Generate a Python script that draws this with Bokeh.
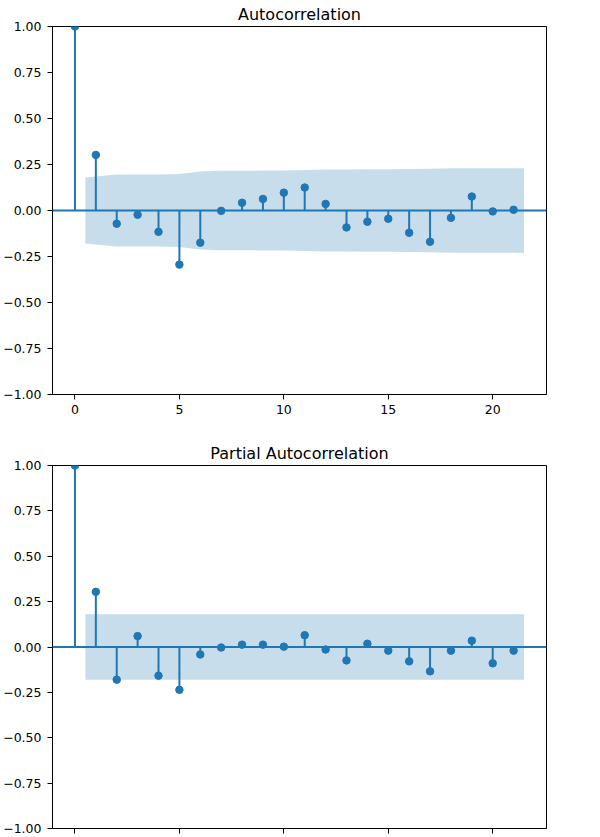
from bokeh.plotting import figure
from bokeh.layouts import column
from bokeh.models import Span, FixedTicker, Range1d
from bokeh.embed import file_html
from bokeh.resources import INLINE

# ---- data ----
lags = list(range(22))
acf_values = [1.0, 0.302, -0.072, -0.023, -0.116, -0.294, -0.175, -0.002, 0.042, 0.063,
              0.097, 0.125, 0.036, -0.092, -0.061, -0.045, -0.121, -0.170, -0.040, 0.076,
              -0.005, 0.004]
# confidence half-width for lags 1..21
acf_conf = [0.180, 0.195, 0.196, 0.196, 0.198, 0.212, 0.216, 0.216, 0.217, 0.218, 0.220,
            0.223, 0.223, 0.224, 0.224, 0.225, 0.227, 0.229, 0.229, 0.230, 0.230]
pacf_values = [1.0, 0.304, -0.180, 0.060, -0.158, -0.236, -0.041, -0.003, 0.013, 0.013,
               0.002, 0.065, -0.014, -0.074, 0.018, -0.020, -0.079, -0.134, -0.020, 0.035,
               -0.090, -0.020]
pacf_conf = [0.181, 0.181, 0.181, 0.181, 0.181, 0.181, 0.181, 0.181, 0.181, 0.181, 0.181,
             0.181, 0.181, 0.181, 0.181, 0.181, 0.181, 0.181, 0.181, 0.181, 0.181]
titles = ["Autocorrelation", "Partial Autocorrelation"]
x_ticks = [0, 5, 10, 15, 20]
y_ticks = [-1.0, -0.75, -0.5, -0.25, 0.0, 0.25, 0.5, 0.75, 1.0]
y_tick_labels = ["\u22121.00", "\u22120.75", "\u22120.50", "\u22120.25", "0.00",
                 "0.25", "0.50", "0.75", "1.00"]

BLUE = "#1f77b4"
FONT = "DejaVu Sans"


def make_plot(title, values, conf, height, bottom, show_xlabels):
    p = figure(width=592, height=height, output_backend="svg", toolbar_location=None,
               x_range=Range1d(-1.075, 22.575), y_range=Range1d(-1.0, 1.0),
               min_border_left=51, min_border_right=46, min_border_top=25,
               min_border_bottom=bottom)
    p.title.text = title
    p.title.align = "center"
    p.title.text_font = FONT
    p.title.text_font_size = "16px"
    p.title.text_font_style = "normal"
    p.title.text_color = "black"
    p.title.standoff = 5
    p.grid.visible = False
    p.outline_line_color = "black"
    p.outline_line_width = 1
    p.outline_line_alpha = 1
    p.background_fill_color = "white"
    p.border_fill_color = "white"

    for ax in (p.xaxis[0], p.yaxis[0]):
        ax.axis_line_color = "black"
        ax.major_tick_line_color = "black"
        ax.major_tick_out = 5
        ax.major_tick_in = 0
        ax.minor_tick_line_color = None
        ax.major_label_text_font = FONT
        ax.major_label_text_font_size = "12.5px"
        ax.major_label_text_color = "black"
    p.xaxis.ticker = FixedTicker(ticks=x_ticks)
    p.yaxis.ticker = FixedTicker(ticks=y_ticks)
    p.yaxis.major_label_overrides = {t: l for t, l in zip(y_ticks, y_tick_labels)}
    p.yaxis.major_label_standoff = 6
    if show_xlabels:
        p.xaxis.major_label_standoff = 5
    else:
        # the reference crops these labels away below the window
        p.xaxis.major_label_overrides = {t: "" for t in x_ticks}
        p.xaxis.major_label_standoff = 0

    # confidence band: lags 1..21 with the ends stretched by half a lag
    band_x = [float(v) for v in lags[1:]]
    band_x[0] -= 0.5
    band_x[-1] += 0.5
    p.varea(x=band_x, y1=[-c for c in conf], y2=conf,
            fill_color=BLUE, fill_alpha=0.25)
    p.segment(x0=lags, y0=[0] * len(lags), x1=lags, y1=values,
              line_color=BLUE, line_width=2)
    p.add_layout(Span(location=0, dimension="width", line_color=BLUE, line_width=2))
    p.scatter(x=lags, y=values, size=7.5, fill_color=BLUE, line_color=BLUE)
    return p


p1 = make_plot(titles[0], acf_values, acf_conf, 439, 45, True)
p2 = make_plot(titles[1], pacf_values, pacf_conf, 398, 9, False)
p = column(p1, p2, spacing=0)

open("out.html", "w").write(file_html(p, INLINE))
